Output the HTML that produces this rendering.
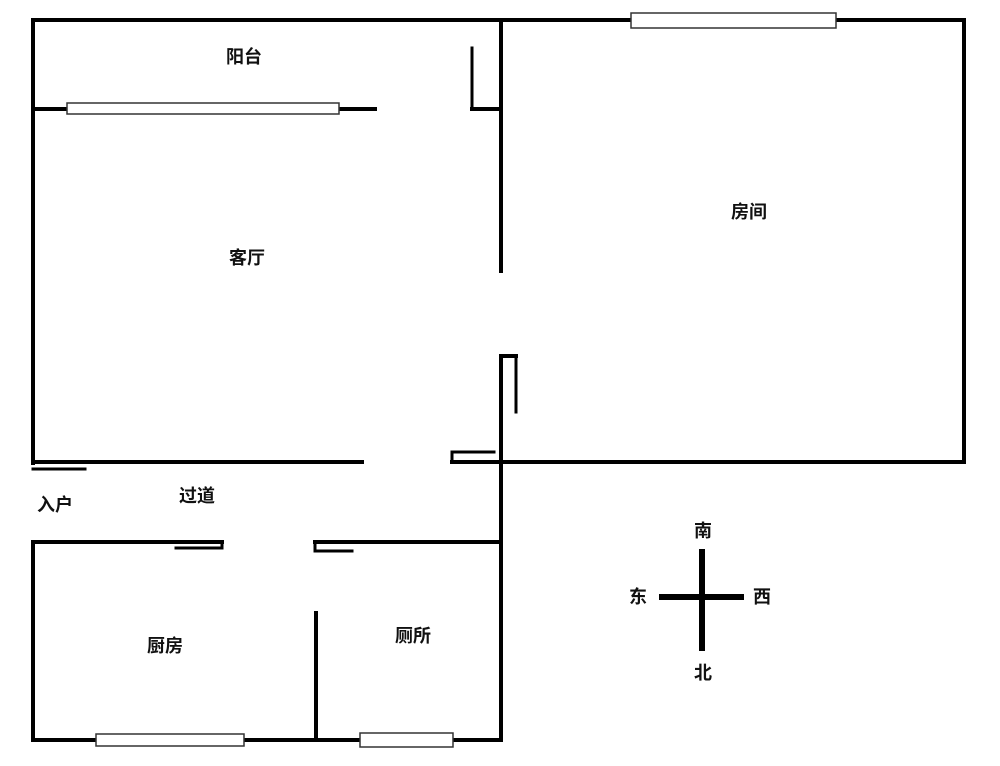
<!DOCTYPE html>
<html><head><meta charset="utf-8"><style>
html,body{margin:0;padding:0;background:#fff;}
svg{display:block}
text{font-family:"Liberation Sans","Noto Sans CJK SC",sans-serif;font-weight:bold;font-size:18px;fill:#111;text-anchor:middle;dominant-baseline:central}
</style></head><body>
<svg width="1000" height="766" viewBox="0 0 1000 766" xmlns="http://www.w3.org/2000/svg">
<g stroke="#000" stroke-width="4" fill="none" stroke-linecap="square">
<line x1="33" y1="20" x2="964" y2="20"/>
<line x1="33" y1="20" x2="33" y2="463"/>
<line x1="964" y1="20" x2="964" y2="462"/>
<line x1="501" y1="462" x2="964" y2="462"/>
<line x1="33" y1="109" x2="375" y2="109"/>
<line x1="501" y1="20" x2="501" y2="271"/>
<line x1="472" y1="109" x2="501" y2="109"/>
<line x1="472" y1="48" x2="472" y2="109" stroke-width="3"/>
<line x1="33" y1="462" x2="362" y2="462"/>
<line x1="452" y1="462" x2="501" y2="462"/>
<line x1="452" y1="452" x2="452" y2="462" stroke-width="3"/>
<line x1="452" y1="452" x2="494" y2="452" stroke-width="3"/>
<line x1="33" y1="469" x2="85" y2="469" stroke-width="3"/>
<line x1="501" y1="356" x2="501" y2="740"/>
<line x1="501" y1="356" x2="516" y2="356"/>
<line x1="516" y1="356" x2="516" y2="412" stroke-width="3"/>
<line x1="33" y1="542" x2="222" y2="542"/>
<line x1="222" y1="542" x2="222" y2="548" stroke-width="3"/>
<line x1="176" y1="548" x2="222" y2="548" stroke-width="3"/>
<line x1="315" y1="542" x2="501" y2="542"/>
<line x1="315" y1="542" x2="315" y2="551" stroke-width="3"/>
<line x1="315" y1="551" x2="352" y2="551" stroke-width="3"/>
<line x1="33" y1="542" x2="33" y2="740"/>
<line x1="33" y1="740" x2="501" y2="740"/>
<line x1="316" y1="613" x2="316" y2="740"/>
<line x1="702" y1="549" x2="702" y2="651" stroke-width="6" stroke-linecap="butt"/>
<line x1="659" y1="597" x2="744" y2="597" stroke-width="6" stroke-linecap="butt"/>
</g>
<g fill="#fff" stroke="#333" stroke-width="1.5">
<rect x="67" y="103" width="272" height="11"/>
<rect x="631" y="13" width="205" height="15"/>
<rect x="96" y="734" width="148" height="12"/>
<rect x="360" y="733" width="93" height="14"/>
</g>
<text x="244" y="57">阳台</text>
<text x="247" y="258">客厅</text>
<text x="749" y="212">房间</text>
<text x="55" y="505">入户</text>
<text x="197" y="496">过道</text>
<text x="165" y="646">厨房</text>
<text x="413" y="636">厕所</text>
<text x="703" y="531">南</text>
<text x="703" y="673">北</text>
<text x="638" y="597">东</text>
<text x="762" y="597">西</text>
</svg>
</body></html>
